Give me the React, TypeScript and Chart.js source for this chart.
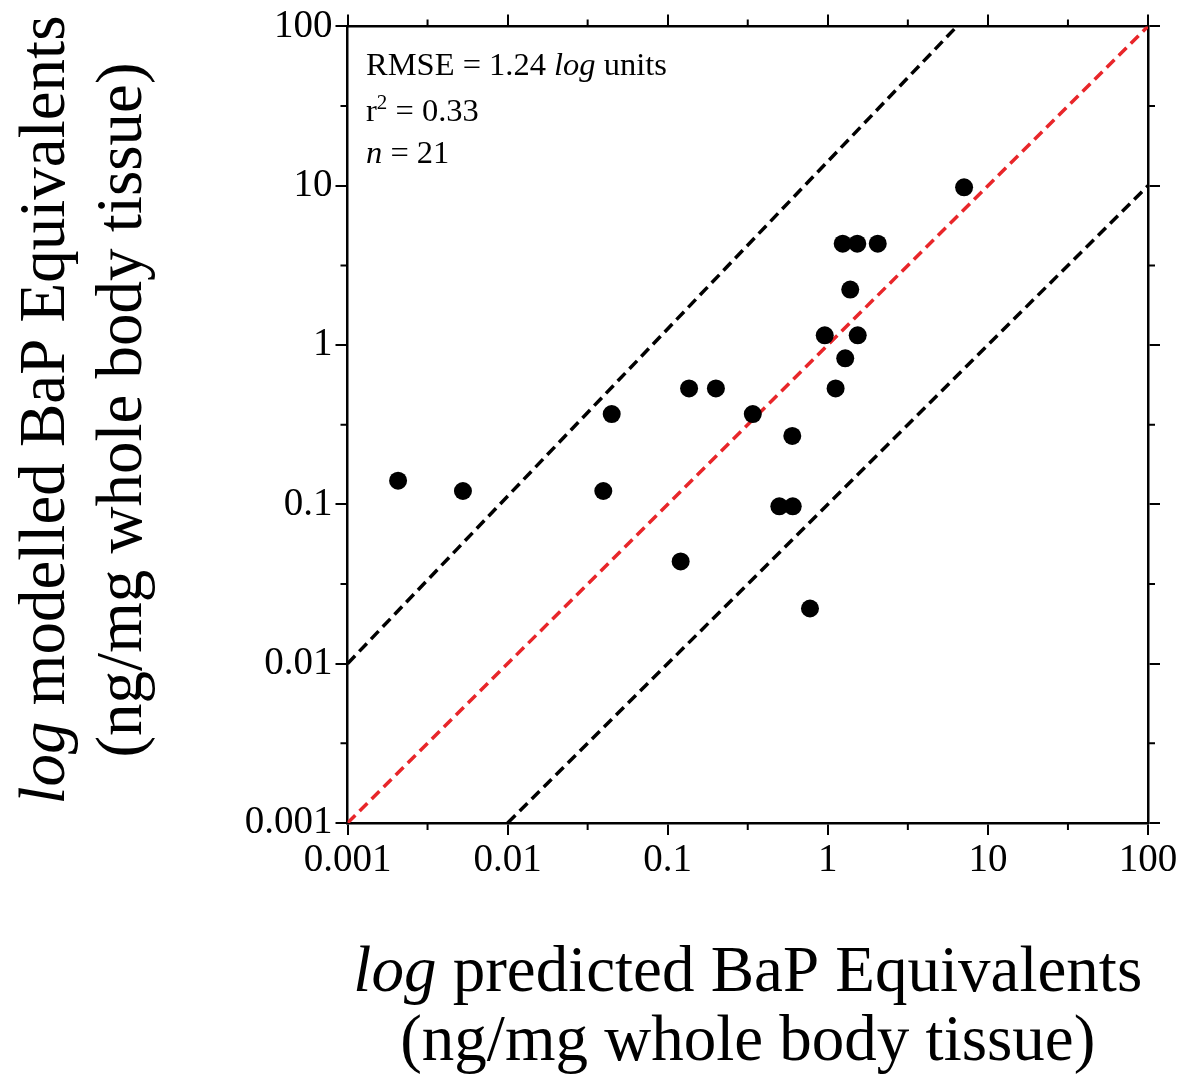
import React, { useEffect, useRef } from "react";
import { Chart, registerables } from "chart.js";

Chart.register(...registerables);

const predicted = [
  0.00207, 0.00526, 0.0396, 0.0447, 0.136, 0.2, 0.1205, 0.34, 0.498, 0.604, 0.6,
  0.774, 0.957, 1.119, 1.285, 1.538, 1.381, 1.239, 1.528, 2.051, 7.1,
];
const modelled = [
  0.1407, 0.1213, 0.1213, 0.369, 0.534, 0.534, 0.0438, 0.369, 0.0972, 0.0972, 0.2687,
  0.0222, 1.15, 0.534, 0.826, 1.15, 2.228, 4.325, 4.325, 4.325, 9.77,
];

// Reference lines
const identityX = [0.001, 100];
const identityY = [0.001, 100];
const upperX = [0.001, 6.4];
const upperY = [0.01, 100];
const lowerX = [0.01, 100];
const lowerY = [0.001, 10];

// Axes
const majorTicks = [0.001, 0.01, 0.1, 1, 10, 100];
const tickLabels = ["0.001", "0.01", "0.1", "1", "10", "100"];
const minorTicks = [0.003162, 0.03162, 0.3162, 3.162, 31.62];

const xTitle1 = ["log", " predicted BaP Equivalents"];
const yTitle1 = ["log", " modelled BaP Equivalents"];
const title2 = "(ng/mg whole body tissue)";
const statRmse = ["RMSE = 1.24 ", "log", " units"];
const statR2 = ["r", "2", " = 0.33"];
const statN = ["n", " = 21"];

const FAMILY = '"Liberation Serif", "Times New Roman", serif';

const toPoints = (xs: number[], ys: number[]) => xs.map((x, i) => ({ x, y: ys[i] }));

function axis(position: string, showLabels: boolean, size: number) {
  const horizontal = position === "top" || position === "bottom";
  return {
    type: "logarithmic" as const,
    position,
    min: 0.001,
    max: 100,
    afterBuildTicks: (s: any) => {
      s.ticks = majorTicks.map((v) => ({ value: v, major: true }));
    },
    afterFit: (s: any) => {
      if (horizontal) s.height = size;
      else s.width = size;
    },
    grid: {
      drawOnChartArea: false,
      drawTicks: true,
      tickLength: 12,
      lineWidth: 2,
      tickWidth: 2,
      color: "#000",
      tickColor: "#000",
    },
    border: { display: true, color: "#000", width: 2.5 },
    ticks: {
      display: showLabels,
      autoSkip: false,
      maxRotation: 0,
      minRotation: 0,
      padding: horizontal ? 2 : 3,
      color: "#000",
      font: { family: FAMILY, size: 39 },
      callback: (_v: any, i: number) => tickLabels[i],
    },
  };
}

type Seg = { t: string; italic?: boolean; size?: number; rise?: number };

function drawSegs(ctx: CanvasRenderingContext2D, segs: Seg[], x: number, y: number, base: number, align: "left" | "center") {
  const fontOf = (s: Seg) => `${s.italic ? "italic " : ""}${s.size ?? base}px ${FAMILY}`;
  let total = 0;
  for (const s of segs) {
    ctx.font = fontOf(s);
    total += ctx.measureText(s.t).width;
  }
  let cx = align === "center" ? x - total / 2 : x;
  ctx.textAlign = "left";
  ctx.textBaseline = "alphabetic";
  for (const s of segs) {
    ctx.font = fontOf(s);
    ctx.fillText(s.t, cx, y - (s.rise ?? 0));
    cx += ctx.measureText(s.t).width;
  }
}

const decorPlugin = {
  id: "decor",
  afterDraw(chart: any) {
    const { ctx, chartArea } = chart;
    const xs = chart.scales.x;
    const ys = chart.scales.y;
    const { left, right, top, bottom } = chartArea;
    ctx.save();
    ctx.strokeStyle = "#000";
    ctx.fillStyle = "#000";
    ctx.lineWidth = 2;
    // minor ticks on all four sides
    const mlen = 7;
    ctx.beginPath();
    for (const v of minorTicks) {
      const px = xs.getPixelForValue(v);
      ctx.moveTo(px, bottom);
      ctx.lineTo(px, bottom + mlen);
      ctx.moveTo(px, top);
      ctx.lineTo(px, top - mlen);
      const py = ys.getPixelForValue(v);
      ctx.moveTo(left, py);
      ctx.lineTo(left - mlen, py);
      ctx.moveTo(right, py);
      ctx.lineTo(right + mlen, py);
    }
    ctx.stroke();

    // statistics annotation
    const ax = left + 18.5;
    drawSegs(ctx, [{ t: statRmse[0] }, { t: statRmse[1], italic: true }, { t: statRmse[2] }], ax, top + 49, 32.5, "left");
    drawSegs(ctx, [{ t: statR2[0] }, { t: statR2[1], size: 21, rise: 12 }, { t: statR2[2] }], ax, top + 94.5, 32.5, "left");
    drawSegs(ctx, [{ t: statN[0], italic: true }, { t: statN[1] }], ax, top + 136.5, 32.5, "left");

    // x axis title
    const cxp = (left + right) / 2;
    drawSegs(ctx, [{ t: xTitle1[0], italic: true }, { t: xTitle1[1] }], cxp, 991, 65, "center");
    drawSegs(ctx, [{ t: title2 }], cxp, 1060, 65, "center");

    // y axis title (rotated)
    const cyp = 410;
    ctx.save();
    ctx.translate(64, cyp);
    ctx.rotate(-Math.PI / 2);
    drawSegs(ctx, [{ t: yTitle1[0], italic: true }, { t: yTitle1[1] }], 0, 0, 65, "center");
    ctx.restore();
    ctx.save();
    ctx.translate(141, cyp);
    ctx.rotate(-Math.PI / 2);
    drawSegs(ctx, [{ t: title2 }], 0, 0, 65, "center");
    ctx.restore();

    ctx.restore();
  },
};

export default function App() {
  const ref = useRef<HTMLCanvasElement | null>(null);
  useEffect(() => {
    document.body.style.margin = "0";
    if (!ref.current) return;
    const dashed = (data: any, color: string) => ({
      type: "line" as const,
      data,
      showLine: true,
      borderColor: color,
      borderWidth: 3.5,
      borderDash: [11, 6],
      pointRadius: 0,
      fill: false,
      order: 2,
    });
    const chart = new Chart(ref.current, {
      type: "scatter",
      data: {
        datasets: [
          {
            data: toPoints(predicted, modelled),
            pointRadius: 9,
            pointBackgroundColor: "#000",
            pointBorderColor: "#000",
            pointBorderWidth: 0,
            order: 1,
          } as any,
          dashed(toPoints(identityX, identityY), "#e8262a"),
          dashed(toPoints(upperX, upperY), "#000"),
          dashed(toPoints(lowerX, lowerY), "#000"),
        ],
      },
      options: {
        animation: false,
        responsive: false,
        devicePixelRatio: 1,
        layout: { padding: 0 },
        plugins: { legend: { display: false }, tooltip: { enabled: false } },
        scales: {
          x: axis("bottom", true, 253) as any,
          x2: axis("top", false, 22.7) as any,
          y: axis("left", true, 347.5) as any,
          y2: axis("right", false, 37) as any,
        },
      },
      plugins: [decorPlugin],
    });
    return () => chart.destroy();
  }, []);
  return (
    <div style={{ width: 1185, height: 1076, background: "#fff" }}>
      <canvas ref={ref} width={1185} height={1076} style={{ display: "block" }} />
    </div>
  );
}
